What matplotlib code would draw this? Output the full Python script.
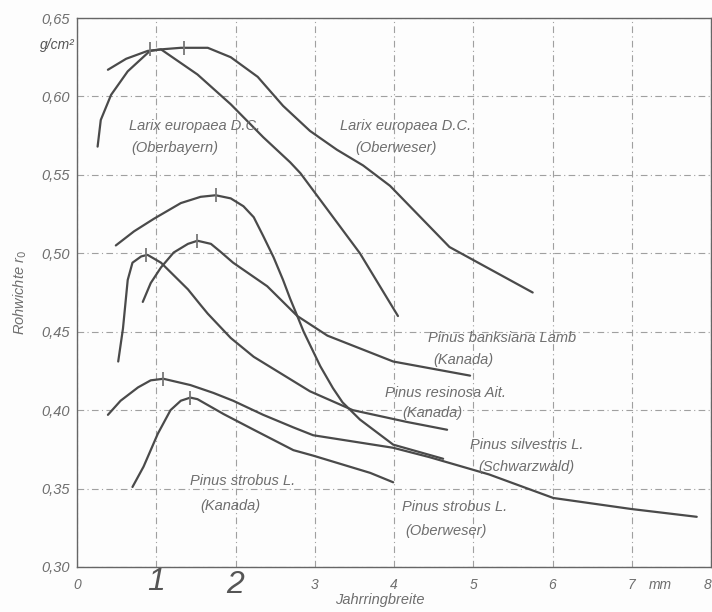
import matplotlib
matplotlib.use("Agg")
import matplotlib.pyplot as plt

# ---- data ----
larix_oberbayern_x = [0.26, 0.30, 0.43, 0.64, 0.92, 1.06, 1.52, 1.94, 2.35, 2.69, 2.82, 3.07, 3.32, 3.57, 4.05]
larix_oberbayern_y = [0.568, 0.585, 0.601, 0.616, 0.629, 0.630, 0.614, 0.595, 0.574, 0.558, 0.551, 0.534, 0.517, 0.500, 0.460]

larix_oberweser_x = [0.39, 0.62, 0.89, 1.06, 1.31, 1.65, 1.94, 2.28, 2.60, 2.94, 3.28, 3.61, 3.95, 4.70, 5.75]
larix_oberweser_y = [0.617, 0.624, 0.629, 0.630, 0.631, 0.631, 0.625, 0.6125, 0.594, 0.578, 0.566, 0.556, 0.543, 0.504, 0.475]

silvestris_x = [0.49, 0.72, 0.97, 1.31, 1.56, 1.75, 1.94, 2.10, 2.23, 2.35, 2.48, 2.60, 2.69, 2.78, 2.86,
                3.07, 3.23, 3.35, 3.57, 3.99, 4.62]
silvestris_y = [0.505, 0.514, 0.522, 0.532, 0.536, 0.537, 0.535, 0.530, 0.523, 0.511, 0.4975, 0.483, 0.471, 0.460, 0.450,
                0.428, 0.414, 0.405, 0.394, 0.378, 0.369]

resinosa_x = [0.52, 0.58, 0.64, 0.70, 0.81, 0.89, 1.06, 1.18, 1.40, 1.56, 1.65, 1.94, 2.23, 2.94, 3.48, 4.16, 4.67]
resinosa_y = [0.431, 0.452, 0.483, 0.494, 0.498, 0.499, 0.494, 0.488, 0.477, 0.467, 0.4615, 0.446, 0.434, 0.412, 0.400, 0.3925, 0.3875]

banksiana_x = [0.83, 0.93, 1.06, 1.22, 1.40, 1.52, 1.69, 1.81, 1.97, 2.40, 2.78, 3.16, 3.99, 4.96]
banksiana_y = [0.469, 0.481, 0.491, 0.5005, 0.506, 0.508, 0.506, 0.501, 0.494, 0.479, 0.460, 0.4475, 0.431, 0.422]

strobus_oberweser_x = [0.39, 0.55, 0.77, 0.93, 1.09, 1.43, 1.72, 1.97, 2.35, 2.73, 2.98, 3.99, 4.45, 5.20, 6.01, 6.99, 7.82]
strobus_oberweser_y = [0.397, 0.406, 0.4145, 0.419, 0.420, 0.416, 0.411, 0.406, 0.397, 0.389, 0.384, 0.376, 0.370, 0.359, 0.344, 0.337, 0.332]

strobus_kanada_x = [0.70, 0.84, 1.02, 1.18, 1.31, 1.43, 1.52, 1.85, 2.23, 2.73, 2.98, 3.70, 3.99]
strobus_kanada_y = [0.351, 0.364, 0.385, 0.400, 0.406, 0.408, 0.407, 0.3975, 0.3875, 0.3745, 0.371, 0.360, 0.354]

peak_x = [0.92, 1.35, 1.75, 0.87, 1.52, 1.09, 1.43]
peak_y = [0.630, 0.631, 0.537, 0.499, 0.508, 0.420, 0.408]

x_ticks = [0, 1, 2, 3, 4, 5, 6, 7, 8]
x_tick_labels = ["0", "", "", "3", "4", "5", "6", "7", "8"]
hand_labels = ["1", "2"]
y_ticks = [0.30, 0.35, 0.40, 0.45, 0.50, 0.55, 0.60, 0.65]
y_tick_labels = ["0,30", "0,35", "0,40", "0,45", "0,50", "0,55", "0,60", "0,65"]

label_lines = [
    ("Larix europaea D.C.", 0.65, 0.581),
    ("(Oberbayern)", 0.68, 0.567),
    ("Larix europaea D.C.", 3.32, 0.581),
    ("(Oberweser)", 3.51, 0.567),
    ("Pinus banksiana Lamb", 4.43, 0.446),
    ("(Kanada)", 4.50, 0.432),
    ("Pinus resinosa Ait.", 3.89, 0.411),
    ("(Kanada)", 4.11, 0.398),
    ("Pinus silvestris L.", 4.96, 0.378),
    ("(Schwarzwald)", 5.06, 0.364),
    ("Pinus strobus L.", 4.10, 0.338),
    ("(Oberweser)", 4.14, 0.323),
    ("Pinus strobus L.", 1.43, 0.355),
    ("(Kanada)", 1.56, 0.339),
]

LINE = "#4a4a4a"
TEXT = "#6e6e6e"
FONT = ["Liberation Sans", "DejaVu Sans"]

fig = plt.figure(figsize=(7.12, 6.12), dpi=100)
fig.patch.set_facecolor("#fdfdfd")
ax = fig.add_axes([77 / 712, 1 - 567 / 612, 634 / 712, (567 - 18) / 612])
ax.set_facecolor("#fdfdfd")
ax.set_xlim(0, 8)
ax.set_ylim(0.30, 0.65)

ax.set_xticks(x_ticks)
ax.set_yticks(y_ticks)
ax.grid(True, color="#a0a0a0", linestyle=(0, (6, 3, 1, 3)), linewidth=0.8)
for s in ax.spines.values():
    s.set_color("#666666")
    s.set_linewidth(1.0)
ax.tick_params(axis="y", length=0, pad=5)
ax.tick_params(axis="x", length=0, pad=8)

ax.set_xticklabels(x_tick_labels, fontstyle="italic", color=TEXT, fontsize=10, family=FONT)
ax.get_xticklabels()[-1].set_horizontalalignment("right")
ax.set_yticklabels(y_tick_labels, fontstyle="italic", color=TEXT, fontsize=10.5, family=FONT)

for pos, txt, yy in [(1, hand_labels[0], -0.028), (2, hand_labels[1], -0.033)]:
    ax.text(pos, yy, txt, transform=ax.get_xaxis_transform(), ha="center", va="center",
            fontsize=23, fontstyle="italic", color="#555555", family=FONT)

for xs, ys in [
    (larix_oberbayern_x, larix_oberbayern_y),
    (larix_oberweser_x, larix_oberweser_y),
    (silvestris_x, silvestris_y),
    (resinosa_x, resinosa_y),
    (banksiana_x, banksiana_y),
    (strobus_oberweser_x, strobus_oberweser_y),
    (strobus_kanada_x, strobus_kanada_y),
]:
    ax.plot(xs, ys, color=LINE, linewidth=1.6, solid_capstyle="round",
            solid_joinstyle="round")

ax.plot(peak_x, peak_y, linestyle="none", marker="|", markersize=10,
        markeredgewidth=1.3, color="#777777")

for txt, x, y in label_lines:
    ax.text(x, y, txt, fontsize=10.5, fontstyle="italic", color=TEXT,
            family=FONT, ha="left", va="center")

ax.text(-0.004, 0.633, "g/cm²", transform=ax.get_yaxis_transform(), ha="right",
        va="center", fontsize=10, color="#555555", family=FONT, fontstyle="italic")
ax.text(7.22, -0.033, "mm", transform=ax.get_xaxis_transform(), ha="left", va="center",
        fontsize=10, color=TEXT, family=FONT, fontstyle="italic")

fig.text(380 / 712, 1 - 600 / 612, "Jahrringbreite", ha="center", va="center",
         fontsize=10.5, fontstyle="italic", color=TEXT, family=FONT)
fig.text(20 / 712, 1 - 292 / 612, "Rohwichte r$_0$", ha="center", va="center",
         rotation=90, fontsize=10.5, fontstyle="italic", color=TEXT, family=FONT)

fig.savefig("out.png", dpi=100, facecolor=fig.get_facecolor())
